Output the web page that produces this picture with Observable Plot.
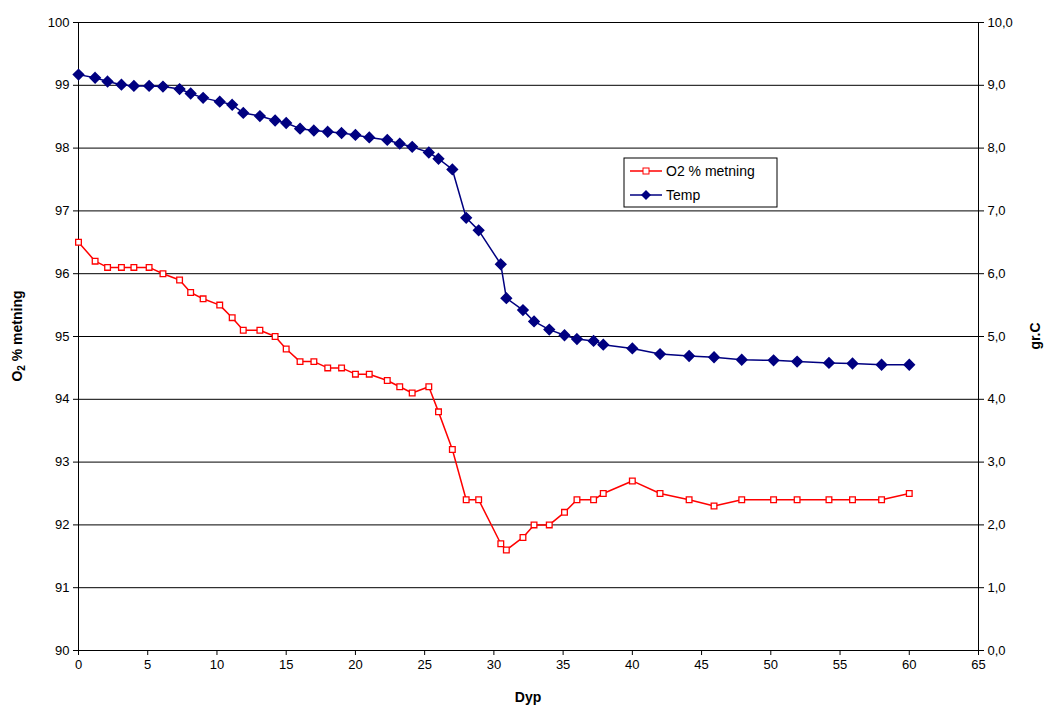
<!DOCTYPE html>
<html><head><meta charset="utf-8">
<script src="https://cdn.jsdelivr.net/npm/d3@7"></script>
<script src="https://cdn.jsdelivr.net/npm/@observablehq/plot@0.6"></script>
<style>body{margin:0;background:#fff;font-family:"Liberation Sans",Arial,sans-serif}</style>
</head><body><div id="chart"></div>
<script>
const dyp = [0,1.2,2.1,3.1,4,5.1,6.1,7.3,8.1,9,10.2,11.1,11.9,13.1,14.2,15,16,17,18,19,20,21,22.3,23.2,24.1,25.3,26,27,28,28.9,30.5,30.9,32.1,32.9,34,35.1,36,37.2,37.9,40,42,44.1,45.9,47.9,50.2,51.9,54.2,55.9,58,60];
const o2 = [96.5,96.2,96.1,96.1,96.1,96.1,96.0,95.9,95.7,95.6,95.5,95.3,95.1,95.1,95.0,94.8,94.6,94.6,94.5,94.5,94.4,94.4,94.3,94.2,94.1,94.2,93.8,93.2,92.4,92.4,91.7,91.6,91.8,92.0,92.0,92.2,92.4,92.4,92.5,92.7,92.5,92.4,92.3,92.4,92.4,92.4,92.4,92.4,92.4,92.5];
const temp = [9.17,9.12,9.06,9.01,8.99,8.99,8.98,8.94,8.87,8.80,8.74,8.69,8.56,8.51,8.44,8.40,8.31,8.28,8.26,8.24,8.21,8.17,8.13,8.07,8.02,7.93,7.83,7.66,6.89,6.69,6.15,5.61,5.42,5.24,5.11,5.02,4.96,4.93,4.87,4.81,4.72,4.69,4.67,4.63,4.62,4.60,4.58,4.57,4.55,4.55];
const yTicks = d3.range(90, 100.1, 1);
const xTicks = d3.range(0, 65.1, 5);

const data = dyp.map((d, i) => ({dyp: d, o2: o2[i], temp: temp[i], t2: temp[i] + 90}));

const chart = Plot.plot({
  width: 1047, height: 711,
  marginLeft: 78, marginRight: 69, marginTop: 22, marginBottom: 61,
  style: {fontFamily: "Liberation Sans, Arial, sans-serif", fontSize: "13px", color: "#000"},
  x: {domain: [0, 65], ticks: xTicks, label: null},
  y: {domain: [90, 100], ticks: yTicks, label: null},
  marks: [
    Plot.gridY(yTicks, {stroke: "#000", strokeOpacity: 1, strokeWidth: 1}),
    Plot.axisY({ticks: yTicks, tickSize: 5, tickFormat: d => d, fontSize: 13}),
    Plot.axisY({anchor: "right", ticks: yTicks, tickSize: 5, tickFormat: d => (d - 90).toFixed(1).replace(".", ","), fontSize: 13}),
    Plot.axisX({ticks: xTicks, tickSize: 5, fontSize: 13}),
    Plot.ruleX([0, 65], {stroke: "#000"}),
    Plot.ruleY([90], {stroke: "#000"}),
    Plot.line(data, {x: "dyp", y: "t2", stroke: "#000080", strokeWidth: 1.5}),
    Plot.dot(data, {x: "dyp", y: "t2", symbol: "diamond2", r: 4.6, fill: "#000080", stroke: "#000080"}),
    Plot.line(data, {x: "dyp", y: "o2", stroke: "#ff0000", strokeWidth: 1.5}),
    Plot.dot(data, {x: "dyp", y: "o2", symbol: "square", r: 3.2, fill: "#fff", stroke: "#ff0000", strokeWidth: 1.3})
  ]
});

const svg = d3.select(chart);
// axis titles
svg.append("text").attr("x", 528).attr("y", 702).attr("text-anchor", "middle")
  .attr("font-weight", "bold").attr("font-size", 14).text("Dyp");
const yl = svg.append("text").attr("transform", "translate(22,336) rotate(-90)")
  .attr("text-anchor", "middle").attr("font-weight", "bold").attr("font-size", 14);
yl.append("tspan").text("O");
yl.append("tspan").attr("font-size", 10).attr("dy", 3).text("2");
yl.append("tspan").attr("dy", -3).text(" % metning");
svg.append("text").attr("transform", "translate(1040,336) rotate(-90)")
  .attr("text-anchor", "middle").attr("font-weight", "bold").attr("font-size", 14).text("gr.C");
// legend
const lg = svg.append("g").attr("transform", "translate(624,158)").attr("text-anchor", "start");
lg.append("rect").attr("width", 153).attr("height", 49).attr("fill", "#fff").attr("stroke", "#000");
lg.append("line").attr("x1", 6).attr("x2", 38).attr("y1", 13).attr("y2", 13).attr("stroke", "#f00").attr("stroke-width", 1.5);
lg.append("rect").attr("x", 19).attr("y", 10).attr("width", 6).attr("height", 6).attr("fill", "#fff").attr("stroke", "#f00");
lg.append("text").attr("x", 42).attr("y", 18).attr("font-size", 14).text("O2 % metning");
lg.append("line").attr("x1", 6).attr("x2", 38).attr("y1", 37).attr("y2", 37).attr("stroke", "#000080").attr("stroke-width", 1.5);
lg.append("path").attr("d", "M22,32L27,37L22,42L17,37Z").attr("fill", "#000080");
lg.append("text").attr("x", 42).attr("y", 42).attr("font-size", 14).text("Temp");

d3.select("#chart").append(() => chart);
</script></body></html>
